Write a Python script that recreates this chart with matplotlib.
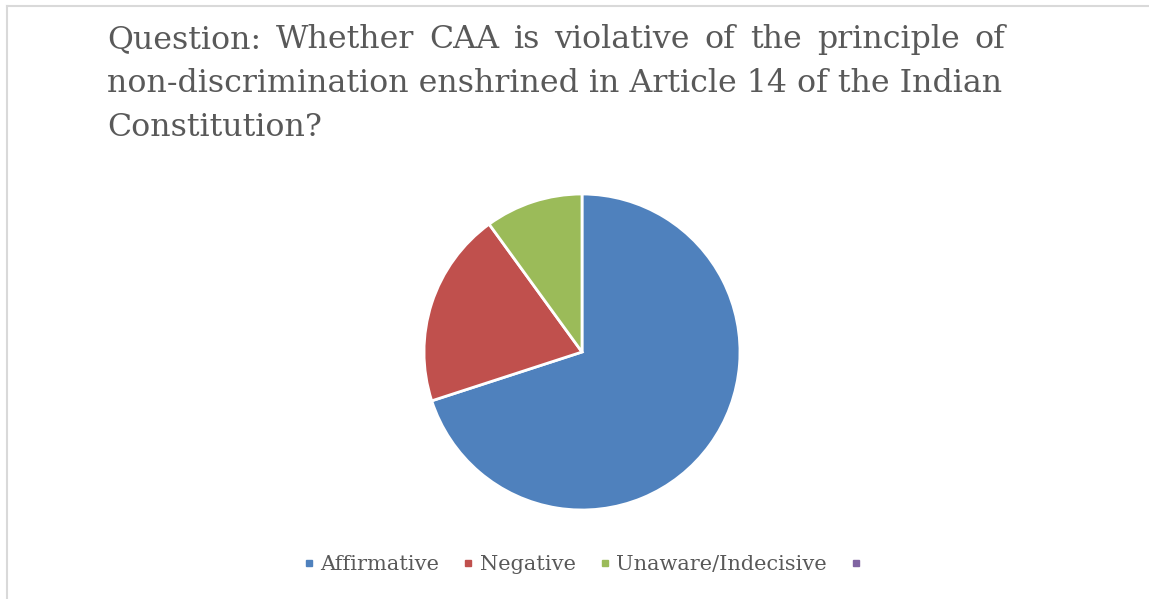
import matplotlib
matplotlib.use("Agg")
import matplotlib.pyplot as plt
from matplotlib.lines import Line2D

# survey answers (percent)
categories = ["Affirmative", "Negative", "Unaware/Indecisive", ""]
shares = [70, 20, 10, 0]
colors = ["#4f81bd", "#c0504d", "#9bbb59", "#8064a2"]

title_lines = [
    "Question: Whether CAA is violative of the principle of",
    "non-discrimination enshrined in Article 14 of the Indian",
    "Constitution?",
]

W, H = 1149, 599
fig = plt.figure(figsize=(W / 100, H / 100), dpi=100)
fig.patch.set_facecolor("white")

# light frame at top and left, like the cropped chart border
fig.add_artist(Line2D([7 / W, 1], [1 - 6 / H, 1 - 6 / H], color="#d9d9d9", lw=1.5))
fig.add_artist(Line2D([7 / W, 7 / W], [0, 1 - 6 / H], color="#d9d9d9", lw=1.5))

font = "DejaVu Serif"
tsize = 22.8
left, right = 107 / W, 1005 / W
baselines = [48, 92, 136]

renderer = fig.canvas.get_renderer()

# first line is justified: spread the words between left and right edge
words = title_lines[0].split()
texts = [fig.text(0, 1 - baselines[0] / H, w, fontsize=tsize, family=font,
                  color="#595959", va="baseline") for w in words]
widths = [t.get_window_extent(renderer).width / W for t in texts]
gap = (right - left - sum(widths)) / (len(words) - 1)
x = left
for t, w in zip(texts, widths):
    t.set_x(x)
    x += w + gap

for line, b in zip(title_lines[1:], baselines[1:]):
    fig.text(left, 1 - b / H, line, fontsize=tsize, family=font,
             color="#595959", va="baseline")

# pie
cx, cy, r = 582, 352, 158
ax = fig.add_axes([(cx - r) / W, 1 - (cy + r) / H, 2 * r / W, 2 * r / H])
ax.pie(shares[:3], colors=colors[:3], startangle=90, counterclock=False,
       radius=1, wedgeprops=dict(edgecolor="white", linewidth=2))
ax.set_xlim(-1, 1)
ax.set_ylim(-1, 1)
ax.set_aspect("equal")
ax.axis("off")

handles = [Line2D([], [], marker="s", linestyle="none", markersize=5,
                  markerfacecolor=c, markeredgecolor=c) for c in colors]
fig.legend(handles, categories, loc="center", bbox_to_anchor=(585 / W, 1 - 565 / H),
           ncol=4, frameon=False, handlelength=0.6, handletextpad=0.25,
           columnspacing=1.1, prop=dict(family=font, size=15),
           labelcolor="#595959")

fig.savefig("out.png", dpi=100)
